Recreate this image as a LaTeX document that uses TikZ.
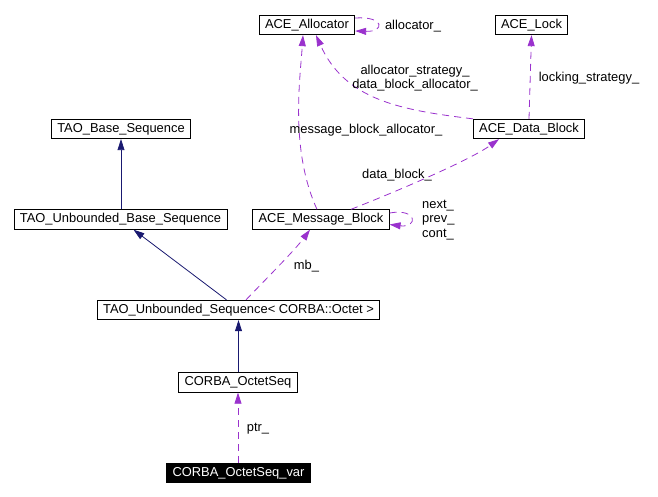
\documentclass[tikz,border=0pt]{standalone}
\usepackage{fontspec}
\setmainfont{Liberation Sans}
\usetikzlibrary{arrows.meta,calc}
\definecolor{inhcol}{HTML}{191970}
\definecolor{usecol}{HTML}{9A32CD}
\begin{document}
\begin{tikzpicture}[x=1pt,y=-1pt,
  every node/.style={font=\fontsize{12.9}{14.5}\selectfont},
  cls/.style={draw=black,line width=0.8pt,inner xsep=5.8pt,inner ysep=0pt,minimum height=19.5pt,fill=white},
  cur/.style={cls,fill=black,text=white},
  inh/.style={draw=inhcol,line width=0.8pt,-{Triangle[length=11pt,width=7pt]},color=inhcol},
  use/.style={draw=usecol,line width=0.8pt,dash pattern=on 7pt off 5pt,-{Triangle[length=11pt,width=7pt]},color=usecol},
  lbl/.style={inner sep=0pt,text=black}]
\useasboundingbox (0,0) rectangle (658,497);
% nodes
\node[cls] (alloc) at (307,25) {ACE\_Allocator};
\node[cls] (lock) at (531.5,25) {ACE\_Lock};
\node[cls] (base) at (121,129) {TAO\_Base\_Sequence};
\node[cls] (datab) at (529,129) {ACE\_Data\_Block};
\node[cls] (ubase) at (120.5,219.5) {TAO\_Unbounded\_Base\_Sequence};
\node[cls] (msg) at (321,219.5) {ACE\_Message\_Block};
\node[cls] (useq) at (238.5,310) {TAO\_Unbounded\_Sequence< CORBA::Octet >};
\node[cls] (oseq) at (238,382.5) {CORBA\_OctetSeq};
\node[cur] (var) at (238.5,473) {CORBA\_OctetSeq\_var};
% inheritance
\draw[inh] (ubase.north -| base.south) -- (base.south);
\draw[inh] ($(useq.north)+(-12,0)$) -- ($(ubase.south)+(13,0)$);
\draw[inh] (oseq.north -| useq.south) -- (useq.south);
% usage
\draw[use] (var.north -| oseq.south) -- (oseq.south);
\node[lbl] (lptr) at (258,429) {ptr\_};
\draw[use] ($(useq.north)+(7.5,0)$) .. controls (265,280) and (295,250) .. ($(msg.south)+(-11,0)$);
\node[lbl] (lmb) at (306.5,266) {mb\_};
\draw[use] ($(msg.east)+(0,-6.5)$) .. controls (418,208) and (418,228) .. ($(msg.east)+(0,5)$);
\node[lbl,align=left,anchor=west] (lnext) at (422,220) {next\_\\prev\_\\cont\_};
\draw[use] ($(msg.north)+(30,0)$) .. controls (400,190) and (470,160) .. ($(datab.south)+(-30,0)$);
\node[lbl] (ldb) at (397,175) {data\_block\_};
\draw[use] ($(msg.north)+(-4,0)$) .. controls (290,150) and (300,80) .. ($(alloc.south)+(-4,0)$);
\node[lbl] (lmba) at (366,130) {message\_block\_allocator\_};
\draw[use] (datab.north west) .. controls (400,110) and (345,100) .. ($(alloc.south)+(9,0)$);
\node[lbl,align=center] (lalloc) at (415,78) {allocator\_strategy\_\\data\_block\_allocator\_};
\draw[use] (datab.north) -- (lock.south);
\node[lbl] (llock) at (589,78) {locking\_strategy\_};
\draw[use] ($(alloc.east)+(0,-7)$) .. controls (385,16) and (385,32) .. ($(alloc.east)+(0,6)$);
\node[lbl] (lal) at (413,26) {allocator\_};
\end{tikzpicture}
\end{document}
